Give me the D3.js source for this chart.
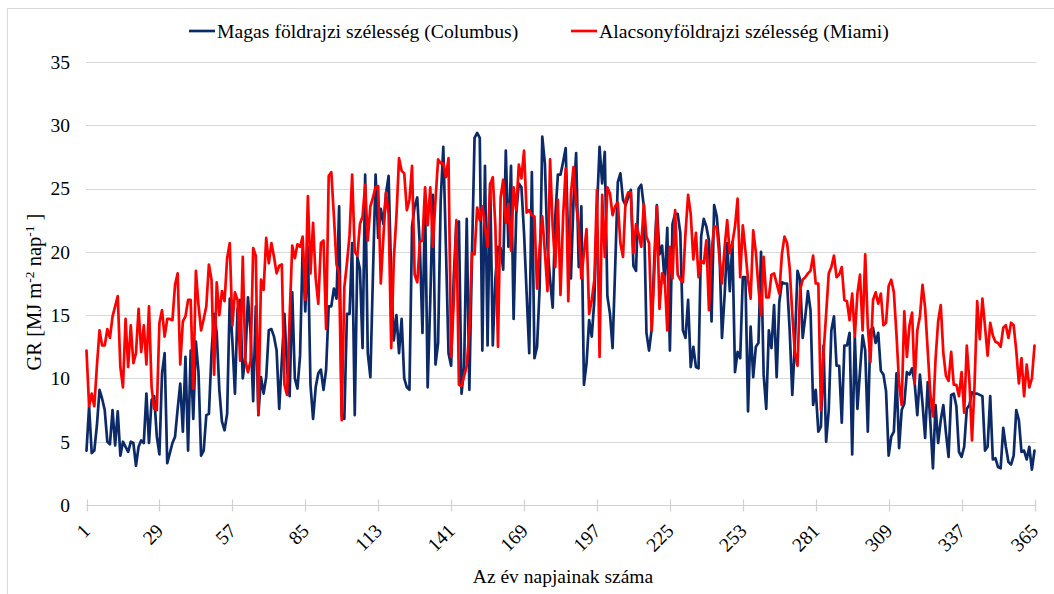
<!DOCTYPE html>
<html>
<head>
<meta charset="utf-8">
<script src="https://cdn.jsdelivr.net/npm/d3@7/dist/d3.min.js"></script>
<style>
  body { margin: 0; background: #ffffff; }
  svg { display: block; }
  text { font-family: "Liberation Serif", "Times New Roman", serif; fill: #000; }
</style>
</head>
<body>
<svg id="chart" width="1054" height="594"></svg>
<script>
// Daily global radiation, GR [MJ m-2 nap-1], day 1..365
const columbus = [
  4.3, 7.8, 4.1, 4.3, 6.3, 9.1, 8.4, 7.5, 5.0, 4.8,
  7.5, 4.7, 7.4, 3.9, 5.0, 4.6, 4.2, 5.0, 4.9, 3.1,
  4.6, 5.1, 4.9, 8.8, 4.9, 8.3, 8.6, 5.4, 4.0, 10.4,
  12.0, 3.3, 4.1, 4.9, 5.4, 7.6, 9.6, 5.8, 11.7, 4.3,
  12.2, 6.8, 12.9, 10.5, 3.9, 4.3, 7.1, 7.2, 12.0, 15.1,
  13.6, 9.1, 6.6, 5.9, 7.2, 16.3, 13.0, 8.8, 15.5, 16.2,
  10.0, 11.7, 16.4, 13.6, 8.2, 15.7, 7.1, 10.1, 8.8, 10.1,
  13.8, 13.9, 13.3, 12.2, 7.6, 11.4, 15.1, 10.8, 8.6, 16.8,
  10.0, 9.2, 11.8, 20.4, 15.3, 20.4, 9.5, 6.8, 9.3, 10.4,
  10.7, 9.1, 10.7, 15.7, 15.7, 17.1, 16.3, 23.6, 7.0, 6.8,
  15.1, 15.1, 20.7, 7.1, 19.6, 18.6, 12.4, 26.1, 12.0, 10.1,
  18.3, 26.1, 21.1, 23.4, 22.2, 24.6, 26.0, 18.0, 13.0, 15.0,
  12.0, 14.7, 10.0, 9.3, 9.1, 22.0, 23.6, 24.3, 20.4, 13.6,
  24.1, 9.3, 16.2, 24.5, 11.1, 12.8, 24.1, 28.3, 20.4, 12.0,
  11.0, 18.0, 22.2, 22.4, 8.8, 10.9, 22.6, 9.1, 19.6, 29.0,
  29.4, 29.0, 12.2, 26.8, 12.6, 25.4, 12.6, 17.9, 20.4, 20.3,
  18.6, 28.0, 20.4, 26.8, 14.7, 23.0, 25.4, 25.1, 21.5, 16.7,
  12.0, 26.3, 11.6, 12.5, 17.2, 29.1, 27.0, 20.4, 17.8, 15.6,
  22.8, 26.1, 26.1, 27.1, 28.2, 20.4, 17.9, 24.1, 27.8, 18.8,
  23.6, 9.5, 11.2, 14.6, 13.3, 16.2, 23.3, 28.3, 25.4, 27.9,
  16.5, 15.1, 12.4, 18.8, 25.5, 26.2, 24.1, 23.7, 24.3, 24.9,
  18.9, 18.5, 25.0, 25.3, 23.6, 13.6, 12.2, 13.9, 19.4, 23.7,
  19.8, 20.5, 17.5, 21.9, 12.2, 22.2, 23.0, 23.0, 21.5, 13.8,
  13.2, 16.2, 10.9, 12.5, 10.9, 10.8, 21.2, 22.6, 22.0, 20.9,
  14.5, 23.7, 22.8, 20.3, 13.2, 16.5, 20.7, 16.9, 20.8, 10.5,
  12.1, 11.6, 18.0, 18.0, 7.4, 14.1, 10.1, 12.5, 12.8, 20.0,
  10.3, 7.6, 13.8, 12.4, 15.8, 10.1, 16.0, 17.6, 17.5, 17.5,
  13.8, 8.7, 12.8, 18.5, 17.8, 13.2, 14.9, 16.9, 15.4, 7.9,
  9.1, 5.8, 6.2, 12.6, 5.0, 7.5, 13.8, 14.9, 11.0, 11.0,
  6.5, 12.6, 12.6, 13.6, 4.0, 13.3, 7.6, 10.6, 13.4, 12.2,
  5.8, 13.8, 14.0, 12.8, 13.6, 10.6, 10.3, 9.0, 3.9, 5.4,
  5.8, 10.4, 4.5, 7.5, 8.0, 10.5, 10.3, 10.8, 9.6, 7.1,
  10.3, 8.0, 5.3, 9.7, 6.6, 2.9, 7.9, 4.9, 6.7, 7.9,
  5.7, 3.8, 8.7, 8.8, 7.8, 4.2, 3.8, 4.6, 7.6, 7.9,
  8.9, 8.8, 8.8, 8.7, 8.6, 4.3, 4.6, 8.6, 3.6, 3.7,
  3.0, 2.9, 6.1, 4.6, 3.4, 3.2, 3.9, 7.5, 6.7, 4.2,
  4.3, 3.6, 4.6, 2.8, 4.3
];

const miami = [
  12.2, 7.8, 8.8, 7.8, 11.0, 13.8, 12.6, 12.6, 13.9, 13.2,
  14.9, 15.7, 16.5, 10.9, 9.3, 14.7, 10.9, 14.2, 11.2, 12.0,
  15.5, 12.1, 14.2, 11.1, 15.7, 9.3, 7.6, 7.5, 14.4, 15.4,
  13.3, 14.7, 14.7, 14.6, 17.4, 18.3, 11.1, 14.5, 14.9, 16.2,
  16.2, 9.2, 18.5, 15.8, 13.8, 14.7, 15.7, 19.0, 17.8, 10.3,
  17.6, 15.0, 16.9, 16.1, 19.5, 20.7, 14.2, 16.8, 16.2, 11.4,
  19.6, 11.4, 10.5, 11.4, 20.3, 19.7, 7.2, 17.8, 17.0, 21.1,
  19.1, 20.7, 19.6, 18.3, 18.9, 19.0, 9.5, 8.7, 14.9, 20.5,
  19.5, 20.6, 20.4, 21.2, 16.2, 24.4, 18.3, 22.3, 17.9, 15.9,
  20.7, 20.9, 13.9, 26.0, 26.3, 22.8, 19.0, 18.3, 6.7, 17.2,
  19.1, 21.3, 26.1, 20.0, 19.7, 22.2, 22.8, 25.3, 20.9, 23.6,
  24.3, 25.1, 25.2, 17.5, 21.2, 24.7, 23.0, 12.4, 19.4, 22.8,
  27.4, 26.4, 26.2, 23.3, 24.1, 26.8, 18.2, 17.6, 20.8, 20.9,
  25.1, 22.1, 25.1, 20.4, 24.1, 27.3, 27.0, 27.0, 25.9, 27.4,
  11.7, 16.0, 22.5, 9.5, 9.4, 10.2, 11.0, 13.8, 19.9, 19.8,
  23.5, 22.5, 23.6, 22.0, 20.4, 25.3, 25.9, 22.0, 12.5, 24.3,
  25.7, 22.3, 23.8, 20.1, 25.1, 23.3, 26.9, 25.8, 28.0, 23.1,
  23.3, 22.9, 22.8, 17.1, 20.4, 22.8, 20.0, 16.9, 27.3, 22.0,
  18.8, 24.1, 16.6, 22.8, 26.6, 16.1, 24.6, 26.7, 23.8, 22.0,
  17.9, 19.9, 21.8, 15.1, 16.2, 17.8, 24.9, 11.7, 24.5, 19.6,
  25.1, 24.6, 22.9, 23.6, 23.9, 20.7, 19.6, 24.1, 24.7, 24.7,
  19.9, 22.2, 21.4, 20.4, 23.8, 21.2, 20.7, 13.8, 18.3, 23.6,
  15.5, 18.3, 18.0, 13.8, 20.4, 17.9, 23.3, 18.2, 17.8, 17.6,
  21.5, 24.5, 23.0, 19.4, 21.5, 18.0, 19.3, 19.1, 20.9, 15.4,
  20.1, 22.0, 22.0, 19.6, 17.5, 20.3, 22.5, 19.9, 20.7, 22.0,
  24.2, 18.0, 22.1, 20.1, 17.8, 16.3, 21.7, 20.0, 17.2, 15.0,
  19.6, 16.4, 16.4, 18.2, 18.3, 17.5, 16.7, 19.8, 21.2, 20.7,
  18.7, 15.1, 12.0, 11.0, 17.0, 17.8, 18.0, 18.3, 18.5, 19.7,
  17.5, 17.5, 7.5, 12.0, 15.1, 18.3, 18.8, 19.7, 18.0, 18.2,
  18.8, 16.2, 16.1, 14.6, 16.7, 13.3, 16.7, 18.2, 13.8, 19.8,
  14.1, 11.3, 16.2, 16.8, 15.9, 16.7, 14.2, 14.4, 17.3, 17.8,
  16.8, 13.5, 9.6, 7.9, 15.3, 11.7, 14.2, 15.2, 9.6, 13.8,
  14.9, 17.4, 15.6, 12.2, 8.8, 7.0, 11.5, 14.5, 15.8, 12.0,
  10.2, 9.8, 12.1, 9.5, 9.5, 8.6, 10.5, 7.3, 12.6, 9.8,
  5.1, 9.6, 16.1, 13.1, 16.3, 14.1, 11.8, 14.4, 13.4, 12.9,
  12.8, 12.5, 14.0, 14.2, 13.2, 14.4, 14.2, 12.2, 9.6, 11.6,
  8.6, 11.1, 9.3, 10.0, 12.6
];

const yTicks = [0, 5, 10, 15, 20, 25, 30, 35];
const xTickDays = [1, 29, 57, 85, 113, 141, 169, 197, 225, 253, 281, 309, 337, 365];
const seriesNames = ["Magas földrajzi szélesség (Columbus)", "Alacsonyföldrajzi szélesség (Miami)"];
const seriesColors = ["#0c2a68", "#ff0000"];
const xTitle = "Az év napjainak száma";

const svg = d3.select("#chart");
const W = 1054, H = 594;
const plot = { left: 86, right: 1036.5, top: 62, bottom: 505 };

// chart frame
svg.append("rect")
  .attr("x", 7.5).attr("y", 8.5)
  .attr("width", W + 20).attr("height", H + 20)
  .attr("fill", "none").attr("stroke", "#d9d9d9").attr("stroke-width", 1);

const x = d3.scaleLinear().domain([1, 365]).range([86.5, 1034.5]);
const y = d3.scaleLinear().domain([0, 35]).range([plot.bottom, plot.top]);

// horizontal gridlines
svg.append("g")
  .selectAll("line")
  .data(yTicks.filter(v => v > 0))
  .join("line")
  .attr("x1", plot.left).attr("x2", plot.right)
  .attr("y1", d => Math.round(y(d)) + 0.5).attr("y2", d => Math.round(y(d)) + 0.5)
  .attr("stroke", "#d9d9d9").attr("stroke-width", 1);

// y tick labels
svg.append("g")
  .selectAll("text")
  .data(yTicks)
  .join("text")
  .attr("x", 70).attr("y", d => y(d))
  .attr("dy", "0.35em")
  .attr("text-anchor", "end")
  .attr("font-size", 19.5)
  .text(d => d);

// x axis line with crossing tick marks
const axisY = Math.round(y(0)) + 0.5;
svg.append("line")
  .attr("x1", plot.left).attr("x2", plot.right)
  .attr("y1", axisY).attr("y2", axisY)
  .attr("stroke", "#d0d0d0").attr("stroke-width", 1.2);
svg.append("g")
  .selectAll("line")
  .data(xTickDays)
  .join("line")
  .attr("x1", d => Math.round(x(d)) + 0.5).attr("x2", d => Math.round(x(d)) + 0.5)
  .attr("y1", axisY - 6).attr("y2", axisY + 6)
  .attr("stroke", "#d0d0d0").attr("stroke-width", 1.2);

// rotated x tick labels
svg.append("g")
  .selectAll("text")
  .data(xTickDays)
  .join("text")
  .attr("transform", d => `translate(${x(d) + 5},${plot.bottom + 27}) rotate(-45)`)
  .attr("text-anchor", "end")
  .attr("font-size", 19.5)
  .text(d => d);

// axis titles
svg.append("text")
  .attr("x", 563).attr("y", 583)
  .attr("text-anchor", "middle")
  .attr("font-size", 19.5)
  .text(xTitle);

const yTitle = svg.append("text")
  .attr("transform", "translate(41,292) rotate(-90)")
  .attr("text-anchor", "middle")
  .attr("font-size", 20.5);
yTitle.append("tspan").text("GR [MJ m");
yTitle.append("tspan").attr("font-size", 13.5).attr("dy", -7).text("-2");
yTitle.append("tspan").attr("dy", 7).text(" nap");
yTitle.append("tspan").attr("font-size", 13.5).attr("dy", -7).text("-1");
yTitle.append("tspan").attr("dy", 7).text(" ]");

// series lines
const line = d3.line()
  .x((d, i) => x(i + 1))
  .y(d => y(d));

[columbus, miami].forEach((values, k) => {
  svg.append("path")
    .datum(values)
    .attr("fill", "none")
    .attr("stroke", seriesColors[k])
    .attr("stroke-width", 2.7)
    .attr("stroke-linejoin", "round")
    .attr("stroke-linecap", "round")
    .attr("d", line);
});

// legend
const legendItems = [
  { x: 189, name: seriesNames[0], color: seriesColors[0] },
  { x: 571, name: seriesNames[1], color: seriesColors[1] }
];
const lg = svg.append("g");
legendItems.forEach(item => {
  lg.append("line")
    .attr("x1", item.x).attr("x2", item.x + 26)
    .attr("y1", 31).attr("y2", 31)
    .attr("stroke", item.color).attr("stroke-width", 2.7);
  lg.append("text")
    .attr("x", item.x + 28).attr("y", 37.5)
    .attr("font-size", 19.7)
    .text(item.name);
});
</script>
</body>
</html>
